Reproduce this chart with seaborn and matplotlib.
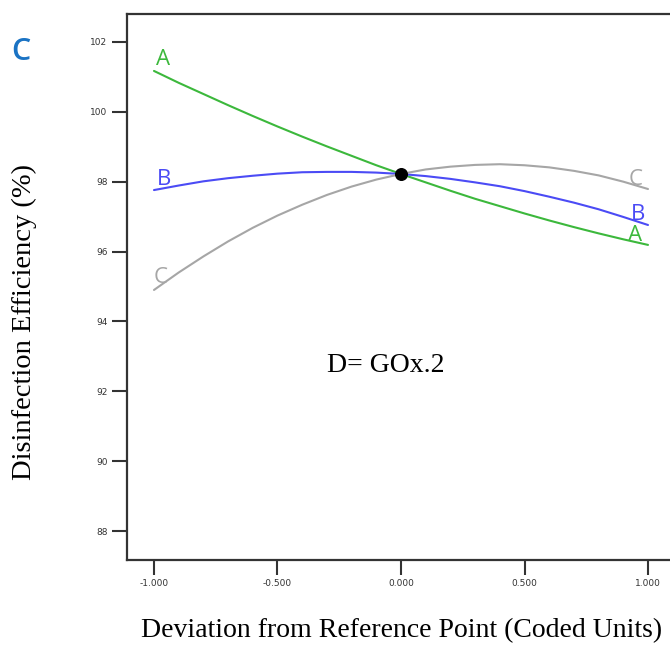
import numpy as np
import pandas as pd
import seaborn as sns
import matplotlib.pyplot as plt

# coded deviation from reference point
dev = [-1.0, -0.9, -0.8, -0.7, -0.6, -0.5, -0.4, -0.3, -0.2, -0.1, 0.0,
       0.1, 0.2, 0.3, 0.4, 0.5, 0.6, 0.7, 0.8, 0.9, 1.0]
# disinfection efficiency (%)
eff_A = [101.17, 100.83, 100.51, 100.19, 99.88, 99.58, 99.29, 99.01, 98.74, 98.47, 98.22,
         97.98, 97.74, 97.51, 97.30, 97.09, 96.89, 96.70, 96.52, 96.35, 96.19]
eff_B = [97.76, 97.89, 98.01, 98.10, 98.17, 98.23, 98.27, 98.28, 98.28, 98.26, 98.22,
         98.16, 98.08, 97.98, 97.87, 97.73, 97.57, 97.40, 97.21, 96.99, 96.76]
eff_C = [94.90, 95.40, 95.86, 96.29, 96.68, 97.03, 97.34, 97.62, 97.86, 98.06, 98.22,
         98.35, 98.43, 98.48, 98.50, 98.47, 98.41, 98.31, 98.18, 98.00, 97.79]
ref_x, ref_y = 0.0, 98.22
yticks = [88, 90, 92, 94, 96, 98, 100, 102]
xticks = [-1.0, -0.5, 0.0, 0.5, 1.0]

df = pd.DataFrame({
    "dev": dev * 3,
    "eff": eff_A + eff_B + eff_C,
    "factor": ["A"] * len(dev) + ["B"] * len(dev) + ["C"] * len(dev),
})
colors = {"A": "#3cb83c", "B": "#4b4bf5", "C": "#a6a6a6"}

sns.set_style("white")
fig = plt.figure(figsize=(6.7, 6.47), dpi=100)
ax = fig.add_axes([127 / 670, 1 - 560 / 647, 573 / 670, 546 / 647])

sns.lineplot(data=df, x="dev", y="eff", hue="factor", palette=colors,
             linewidth=1.5, legend=False, ax=ax)
ax.scatter([ref_x], [ref_y], s=70, color="black", zorder=5)

# curve labels at both ends
lab_font = dict(family="Open Sans", fontsize=16)
ax.text(-0.99, 101.35, "A", color=colors["A"], **lab_font)
ax.text(-0.99, 97.9, "B", color=colors["B"], **lab_font)
ax.text(-1.0, 95.1, "C", color=colors["C"], **lab_font)
ax.text(0.92, 97.9, "C", color=colors["C"], **lab_font)
ax.text(0.93, 96.9, "B", color=colors["B"], **lab_font)
ax.text(0.92, 96.3, "A", color=colors["A"], **lab_font)

ax.text(-0.30, 92.75, "D= GOx.2", family="Liberation Serif", fontsize=20,
        va="center", color="black")

ax.set_xlim(-1.1093, 1.2105)
ax.set_ylim(87.17, 102.8)
ax.set_xticks(xticks)
ax.set_xticklabels([f"{t:.3f}" for t in xticks])
ax.set_yticks(yticks)
ax.tick_params(axis="both", direction="out", length=11, width=1.5,
               bottom=True, left=True,
               color="#333333", labelsize=6.5, labelcolor="#333333", pad=3)
for s in ["left", "top", "bottom", "right"]:
    ax.spines[s].set_color("#333333")
    ax.spines[s].set_linewidth(1.6)

ax.set_xlabel("Deviation from Reference Point (Coded Units)",
              family="Liberation Serif", fontsize=20, color="black")
ax.xaxis.set_label_coords((402 - 127) / 573, -(643 - 560) / 546)
ax.xaxis.label.set_va("bottom")
ax.set_ylabel("Disinfection Efficiency (%)",
              family="Liberation Serif", fontsize=20.5, color="black")
ax.yaxis.set_label_coords(-(127 - 37) / 573, (560 - 322) / 546)

fig.text(11 / 670, 1 - 60 / 647, "C", color="#1a73c4", family="Open Sans",
         fontsize=22, weight="semibold")

fig.savefig("out.png", dpi=100)
